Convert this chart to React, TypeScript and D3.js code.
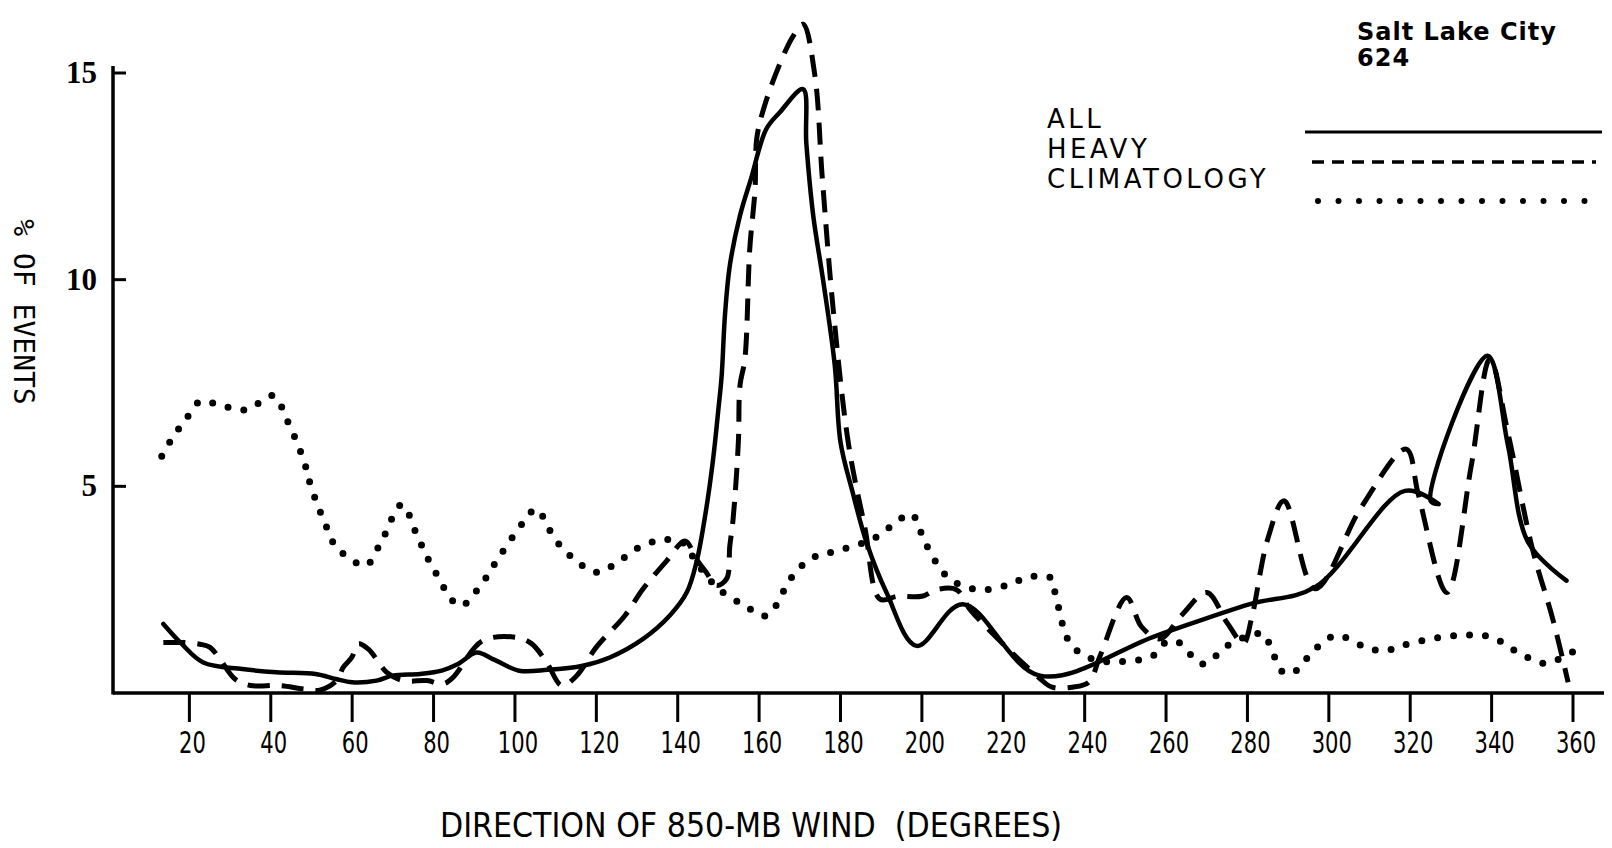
import React from 'react';
import * as d3 from 'd3';

// wind direction bins (deg) and % of events
const allDir = [13.6, 18, 23.4, 33, 41.4, 51, 56, 60, 66, 70, 76.7, 82, 86, 90.6, 95, 101, 108, 116.7, 123.3, 131.5, 138, 142.2, 144.6, 147, 148.7, 150, 150.8, 151.6, 152.8, 155.3, 158, 161.8, 165.1, 170.8, 171.6, 173.3, 175.8, 178.6, 180, 183, 186.4, 191.3, 198.7, 210, 229, 257.7, 280.6, 296.6, 318.7, 327, 325, 339, 344, 349, 358.4];
const allPct = [1.67, 1.2, 0.74, 0.58, 0.5, 0.46, 0.34, 0.26, 0.3, 0.42, 0.46, 0.54, 0.7, 0.98, 0.8, 0.54, 0.56, 0.66, 0.86, 1.31, 1.87, 2.43, 3.16, 4.45, 5.66, 6.87, 7.68, 9.13, 10.34, 11.55, 12.44, 13.65, 14.05, 14.61, 13.3, 11.55, 9.94, 7.92, 6.07, 4.85, 3.64, 2.43, 1.14, 2.15, 0.42, 1.39, 2.15, 2.56, 4.89, 4.57, 4.65, 8.16, 6.0, 3.64, 2.72];

const heavyDir = [13.6, 19, 22.6, 25, 27.5, 31.2, 35, 42, 48, 52, 56.2, 57.8, 59.9, 61.5, 64, 68.5, 72.5, 78.4, 82.3, 84.8, 92, 100, 104, 107.8, 111.5, 115, 120, 127, 131.5, 137.3, 141.8, 144.6, 147, 149.5, 152, 152.8, 153.6, 154.9, 155.3, 156.5, 157.7, 159, 159.4, 161, 165, 168.4, 170.8, 173.7, 175.5, 178.2, 182, 186, 189.7, 194, 200, 203.6, 208.5, 212, 229, 232, 237, 241, 243.8, 250.3, 254, 258.5, 264, 270, 275, 279, 281, 285, 289, 296.6, 308, 319, 322, 329, 335, 339.6, 344, 350, 355, 358.8];
const heavyPct = [1.22, 1.22, 1.18, 1.11, 0.82, 0.34, 0.18, 0.18, 0.1, 0.07, 0.3, 0.62, 0.86, 1.19, 1.06, 0.5, 0.3, 0.3, 0.22, 0.38, 1.26, 1.35, 1.2, 0.74, 0.18, 0.4, 1.11, 1.87, 2.52, 3.2, 3.68, 3.24, 2.92, 2.6, 2.76, 3.56, 4.2, 6.07, 7.44, 8.08, 10.74, 12.19, 13.4, 14.1, 15.2, 15.9, 16.18, 14.94, 12.5, 9.29, 6.0, 4.0, 2.27, 2.34, 2.34, 2.5, 2.5, 2.0, 0.35, 0.14, 0.14, 0.26, 0.9, 2.31, 1.6, 1.31, 1.9, 2.43, 1.7, 1.2, 1.8, 3.73, 4.65, 2.52, 4.5, 5.9, 4.8, 2.43, 5.5, 8.08, 6.3, 3.5, 1.8, 0.26];

const climDir = [13.2, 16, 19, 22.6, 28, 34, 40.6, 44, 48, 50, 53.6, 56, 59, 63.3, 67, 72.2, 76, 80, 86.5, 91.8, 96.3, 102.7, 105.2, 110, 115, 120, 124, 130, 134, 137, 141, 145, 150, 156.5, 161.8, 168, 172.5, 178, 188, 195, 197.5, 201, 206.6, 214, 221, 226, 231.5, 233, 236.5, 242, 249, 256.8, 260, 263, 269, 275, 280, 284, 286, 289, 292, 296, 301.7, 309, 313.5, 320, 331.4, 340, 346.4, 353, 360];
const climPct = [5.73, 6.2, 6.6, 7.05, 6.95, 6.85, 7.19, 6.6, 5.66, 4.96, 4.04, 3.53, 3.29, 3.08, 3.63, 4.56, 3.8, 3.0, 2.11, 2.64, 3.32, 4.21, 4.45, 3.7, 3.2, 2.92, 3.08, 3.5, 3.66, 3.71, 3.65, 3.1, 2.52, 2.11, 1.87, 2.8, 3.24, 3.41, 3.73, 4.23, 4.33, 3.6, 2.78, 2.5, 2.61, 2.8, 2.8, 2.3, 1.19, 0.82, 0.76, 0.9, 1.23, 1.23, 0.7, 1.14, 1.37, 1.43, 1.02, 0.48, 0.54, 1.0, 1.39, 1.11, 1.02, 1.2, 1.39, 1.35, 0.99, 0.72, 1.0];

const xTicks = [20, 40, 60, 80, 100, 120, 140, 160, 180, 200, 220, 240, 260, 280, 300, 320, 340, 360];
const yTicks = [5, 10, 15];
const legendLabels = ['ALL', 'HEAVY', 'CLIMATOLOGY'];

const W = 1612;
const H = 848;

export default function App() {
  const x = d3.scaleLinear().domain([0, 360]).range([108, 1573]);
  const y = d3.scaleLinear().domain([0, 15]).range([693, 73]);

  const line = d3.line<[number, number]>()
    .x(d => x(d[0]))
    .y(d => y(d[1]))
    .curve(d3.curveCatmullRom.alpha(0.5));

  const zip = (a: number[], b: number[]) => a.map((v, i) => [v, b[i]] as [number, number]);

  const axisX0 = 113;
  const axisY0 = 693;

  // legend line styles, same order as legendLabels
  const legendStyles = [
    { dash: undefined, width: 3, cap: 'butt' as const, x1: 1305, x2: 1602 },
    { dash: '12 8', width: 3.5, cap: 'butt' as const, x1: 1312, x2: 1596 },
    { dash: '0 20.5', width: 6, cap: 'round' as const, x1: 1318, x2: 1590 },
  ];
  const legendLineY = [132, 162, 201];

  return (
    <svg
      width={W}
      height={H}
      style={{ position: 'absolute', left: 0, top: 0, background: '#fff', display: 'block' }}
    >
      <rect width={W} height={H} fill="#fff" />

      {/* axes */}
      <line x1={axisX0} y1={66} x2={axisX0} y2={axisY0 + 1.5} stroke="#000" strokeWidth={3.5} />
      <line x1={axisX0} y1={axisY0} x2={1604} y2={axisY0} stroke="#000" strokeWidth={3.5} />

      {yTicks.map(t => (
        <g key={t}>
          <line x1={axisX0} x2={axisX0 + 13} y1={y(t)} y2={y(t)} stroke="#000" strokeWidth={3} />
          <text
            x={97}
            y={y(t) + 10}
            textAnchor="end"
            fontFamily="'Liberation Serif', 'DejaVu Serif', serif"
            fontWeight="bold"
            fontSize={31}
          >
            {t}
          </text>
        </g>
      ))}

      {xTicks.map(t => (
        <g key={t}>
          <line x1={x(t)} x2={x(t)} y1={axisY0} y2={axisY0 + 29} stroke="#000" strokeWidth={3} />
          <text
            transform={`translate(${x(t) + 3}, 753) scale(0.68, 1)`}
            textAnchor="middle"
            fontFamily="'DejaVu Sans', sans-serif"
            fontSize={31}
          >
            {t}
          </text>
        </g>
      ))}

      <text
        x={440}
        y={837}
        textLength={622}
        lengthAdjust="spacingAndGlyphs"
        fontFamily="'DejaVu Sans', sans-serif"
        fontSize={33}
      >
        {'DIRECTION OF 850-MB WIND\u00a0 (DEGREES)'}
      </text>

      <text
        transform="translate(23, 312) rotate(90)"
        textAnchor="middle"
        dominantBaseline="central"
        fontFamily="'DejaVu Sans Mono', monospace"
        fontSize={28}
      >
        % OF EVENTS
      </text>

      {/* series */}
      <path
        d={line(zip(climDir, climPct)) || ''}
        fill="none"
        stroke="#000"
        strokeWidth={7}
        strokeLinecap="round"
        strokeDasharray="0 16"
      />
      <path
        d={line(zip(heavyDir, heavyPct)) || ''}
        fill="none"
        stroke="#000"
        strokeWidth={5}
        strokeDasharray="22 12"
        strokeLinejoin="round"
      />
      <path
        d={line(zip(allDir, allPct)) || ''}
        fill="none"
        stroke="#000"
        strokeWidth={4.5}
        strokeLinecap="round"
        strokeLinejoin="round"
      />

      {/* legend */}
      <text x={1357} y={40} fontFamily="'DejaVu Sans', sans-serif" fontWeight="bold" fontSize={24} letterSpacing={1}>
        Salt Lake City
      </text>
      <text x={1357} y={66} fontFamily="'DejaVu Sans', sans-serif" fontWeight="bold" fontSize={24} letterSpacing={1}>
        624
      </text>

      {legendLabels.map((label, i) => {
        const st = legendStyles[i];
        return (
          <g key={label}>
            <text
              x={1047}
              y={128 + i * 30}
              fontFamily="'DejaVu Sans', sans-serif"
              fontSize={26}
              letterSpacing={3.5}
            >
              {label}
            </text>
            <line
              x1={st.x1}
              x2={st.x2}
              y1={legendLineY[i]}
              y2={legendLineY[i]}
              stroke="#000"
              strokeWidth={st.width}
              strokeDasharray={st.dash}
              strokeLinecap={st.cap}
            />
          </g>
        );
      })}
    </svg>
  );
}
